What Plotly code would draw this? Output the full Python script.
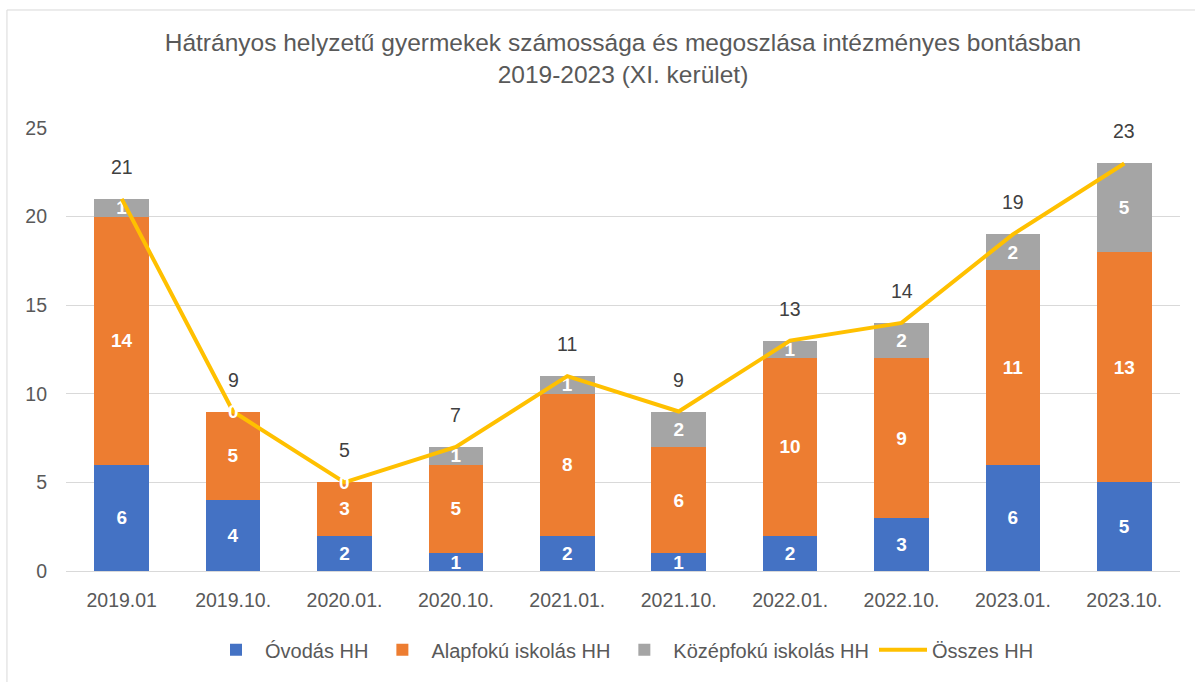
import plotly.graph_objects as go

categories = ["2019.01", "2019.10.", "2020.01.", "2020.10.", "2021.01.",
              "2021.10.", "2022.01.", "2022.10.", "2023.01.", "2023.10."]
ovodas = [6, 4, 2, 1, 2, 1, 2, 3, 6, 5]
alapfoku = [14, 5, 3, 5, 8, 6, 10, 9, 11, 13]
kozepfoku = [1, 0, 0, 1, 1, 2, 1, 2, 2, 5]
osszes = [21, 9, 5, 7, 11, 9, 13, 14, 19, 23]

FONT = "Liberation Sans"
GREY_TXT = "#595959"

fig = go.Figure()

bar_series = [
    ("Óvodás HH", ovodas, "#4472C4"),
    ("Alapfokú iskolás HH", alapfoku, "#ED7D31"),
    ("Középfokú iskolás HH", kozepfoku, "#A5A5A5"),
]
for name, vals, col in bar_series:
    fig.add_trace(go.Bar(
        x=categories, y=vals, name=name,
        marker=dict(color=col, line=dict(width=0)),
        text=[str(v) if v else "" for v in vals],
        textposition="inside", insidetextanchor="middle",
        constraintext="none", cliponaxis=False,
        textfont=dict(color="white", size=19, family=FONT, weight="bold"),
        textangle=0,
    ))

fig.add_trace(go.Scatter(
    x=categories, y=osszes, name="Összes HH", mode="lines",
    line=dict(color="#FFC000", width=4),
))

annotations = []
# total labels above the line points (x given as category index)
for i, v in enumerate(osszes):
    annotations.append(dict(x=i, y=v, text=str(v), showarrow=False, yshift=32,
                            font=dict(size=19.5, color="#404040", family=FONT)))
# zero-valued segment labels sit at the top of the stack
for i, (a, b, k) in enumerate(zip(ovodas, alapfoku, kozepfoku)):
    if k == 0:
        annotations.append(dict(x=i, y=a + b, text="0", showarrow=False,
                                font=dict(size=19, color="white", family=FONT,
                                          weight="bold")))

fig.update_layout(
    width=1195, height=682,
    barmode="stack", bargap=0.51,
    plot_bgcolor="white", paper_bgcolor="white",
    margin=dict(l=66, r=15, t=128, b=111),
    font=dict(family=FONT, color=GREY_TXT, size=19),
    title=dict(
        text="Hátrányos helyzetű gyermekek számossága és megoszlása intézményes bontásban<br>2019-2023 (XI. kerület)",
        x=0.5, xref="paper", xanchor="center", y=0.925, yanchor="middle",
        font=dict(size=24.5, color=GREY_TXT, family=FONT),
    ),
    xaxis=dict(type="category", range=[-0.5, len(categories) - 0.5],
               showgrid=False, showline=True,
               linecolor="#D9D9D9", linewidth=1, ticks="",
               tickfont=dict(size=19.5, color=GREY_TXT), ticklabelstandoff=12),
    yaxis=dict(range=[0, 25], dtick=5, showgrid=True, gridcolor="#D9D9D9",
               gridwidth=1, zeroline=False, showline=False, ticks="",
               tickfont=dict(size=19.5, color=GREY_TXT), ticklabelstandoff=18),
    legend=dict(orientation="h", x=0.5, xanchor="center", y=-0.178,
                yanchor="middle", font=dict(size=20, color=GREY_TXT),
                traceorder="normal", itemwidth=48),
    annotations=annotations,
    shapes=[dict(type="rect", xref="paper", yref="paper",
                 x0=-0.053, x1=1.05, y0=-0.4, y1=1.2664,
                 line=dict(color="#D9D9D9", width=1), layer="below")],
)

fig.write_html("out.html", config={"displayModeBar": False},
               post_script="document.body.style.margin='0';")
